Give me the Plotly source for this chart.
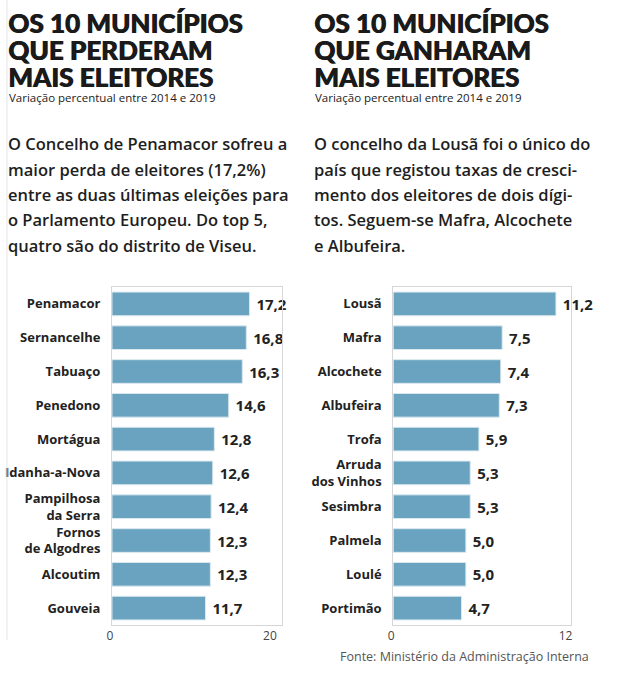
import plotly.graph_objects as go

W, H = 623, 679

lost_names = ["Penamacor", "Sernancelhe", "Tabuaço", "Penedono", "Mortágua", "Idanha-a-Nova",
              "Pampilhosa<br>da Serra", "Fornos<br>de Algodres", "Alcoutim", "Gouveia"]
lost_values = [17.2, 16.8, 16.3, 14.6, 12.8, 12.6, 12.4, 12.3, 12.3, 11.7]

gain_names = ["Lousã", "Mafra", "Alcochete", "Albufeira", "Trofa", "Arruda<br>dos Vinhos",
              "Sesimbra", "Palmela", "Loulé", "Portimão"]
gain_values = [11.2, 7.5, 7.4, 7.3, 5.9, 5.3, 5.3, 5.0, 5.0, 4.7]

left_title = ["OS 10 MUNICÍPIOS", "QUE PERDERAM", "MAIS ELEITORES"]
right_title = ["OS 10 MUNICÍPIOS", "QUE GANHARAM", "MAIS ELEITORES"]
subtitle = "Variação percentual entre 2014 e 2019"
left_par = ["O Concelho de Penamacor sofreu a", "maior perda de eleitores (17,2%)",
            "entre as duas últimas eleições para", "o Parlamento Europeu. Do top 5,",
            "quatro são do distrito de Viseu."]
right_par = ["O concelho da Lousã foi o único do", "país que registou taxas de cresci-",
             "mento dos eleitores de dois dígi-", "tos. Seguem-se Mafra, Alcochete",
             "e Albufeira."]
source = "Fonte: Ministério da Administração Interna"

BAR = "#69a3bf"
FONT = "Open Sans"

def fmt(v):
    return "\u00a0" + f"{v:.1f}".replace(".", ",")

fig = go.Figure()
for vals, names, xa, ya in [(lost_values, lost_names, "x", "y"), (gain_values, gain_names, "x2", "y2")]:
    fig.add_trace(go.Bar(x=vals, y=names, orientation="h", xaxis=xa, yaxis=ya,
                         marker=dict(color=BAR, line=dict(color="#dbe8ef", width=1)),
                         text=[fmt(v) for v in vals], textposition="outside",
                         textfont=dict(family=FONT, size=15, color="#222", weight="bold"),
                         cliponaxis=False, hoverinfo="skip"))

def px(x):
    return x / W

def py(y):
    return 1 - y / H

ydom = [py(625), py(287)]
axline = dict(showline=True, linecolor="#d6d6d6", linewidth=1, mirror=True, showgrid=False, zeroline=False)
tickf = dict(family=FONT, size=12, color="#444")
labf = dict(family=FONT, size=13, color="#222", weight="bold")

fig.update_layout(
    width=W, height=H, margin=dict(l=0, r=0, t=0, b=0),
    paper_bgcolor="white", plot_bgcolor="white", showlegend=False,
    bargap=0.3,
    xaxis=dict(domain=[px(108), px(280)], range=[0, 21.3], tickvals=[0, 20], ticktext=["0", "20"],
               tickfont=tickf, ticks="", anchor="y", ticklabelshift=-2, **axline),
    yaxis=dict(domain=ydom, autorange="reversed", type="category", tickfont=labf, ticks="",
               ticklabelstandoff=8, anchor="x", **axline),
    xaxis2=dict(domain=[px(392), px(572)], range=[0, 12.27], tickvals=[0, 12], ticktext=["0", "12"],
                tickfont=tickf, ticks="", anchor="y2", ticklabelshift=-2, **axline),
    yaxis2=dict(domain=ydom, autorange="reversed", type="category", tickfont=labf, ticks="",
                ticklabelstandoff=8, anchor="x2", **axline),
)

ann = []
for x0, lines in [(1, left_title), (310, right_title)]:
    txt = "<br>".join(f"<span style='font-size:26px'>{t}</span>" for t in lines)
    ann.append(dict(x=px(x0), y=py(50), xref="paper", yref="paper", xanchor="left", yanchor="middle",
                    text=txt, showarrow=False, align="left",
                    font=dict(family="Lato", size=20.8, color="#1a1a1a", weight=900,
                              shadow="0.8px 0px 0px #1a1a1a")))
    ann.append(dict(x=px(x0 + 1), y=py(98), xref="paper", yref="paper", xanchor="left", yanchor="middle",
                    text=subtitle, showarrow=False,
                    font=dict(family=FONT, size=11.5, color="#222")))

par_y = [143, 169, 195, 220, 245]
for x0, lines in [(1, left_par), (310, right_par)]:
    for t, yc in zip(lines, par_y):
        ann.append(dict(x=px(x0), y=py(yc), xref="paper", yref="paper", xanchor="left", yanchor="middle",
                        text=t, showarrow=False,
                        font=dict(family=FONT, size=16.5, color="#1e1e1e", weight=600)))

ann.append(dict(x=px(464), y=py(656), xref="paper", yref="paper", xanchor="center", yanchor="middle",
                text=source, showarrow=False, font=dict(family=FONT, size=12.5, color="#555")))
fig.update_layout(annotations=ann)

fig.add_shape(type="line", xref="paper", yref="paper", x0=px(2), x1=px(2), y0=py(640), y1=py(0),
              line=dict(color="#e6e6e6", width=1))

fig.write_html("out.html")
